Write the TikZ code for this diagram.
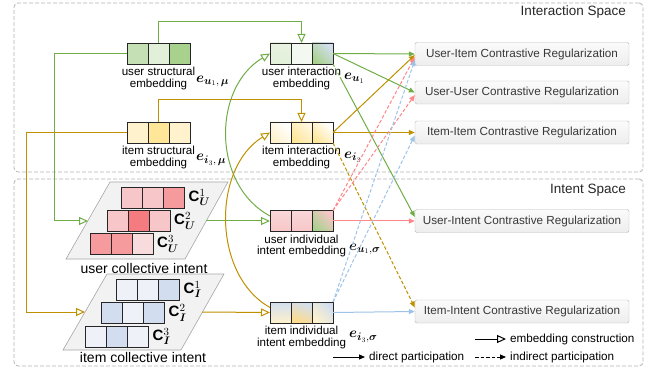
\documentclass[tikz,border=0pt]{standalone}
\usepackage{fontspec}
\setmainfont{Liberation Sans}
\usepackage{amsmath}
\usepackage{bm}
\usetikzlibrary{arrows.meta,positioning}

\definecolor{gline}{HTML}{70AD47}
\definecolor{oline}{HTML}{BF9000}
\definecolor{rline}{HTML}{FF8589}
\definecolor{bline}{HTML}{9DC3E6}
\definecolor{usA}{HTML}{C5E0B4}
\definecolor{usB}{HTML}{E2F0D9}
\definecolor{usC}{HTML}{A9D18E}
\definecolor{isA}{HTML}{FFF2CC}
\definecolor{isB}{HTML}{FFE699}
\definecolor{pkA}{HTML}{F7C6C8}
\definecolor{pkB}{HTML}{F47C80}
\definecolor{pkC}{HTML}{F59A9D}
\definecolor{pkD}{HTML}{F8DCDD}
\definecolor{blA}{HTML}{EEF2F8}
\definecolor{blB}{HTML}{D2DEEF}

% three cells of one embedding: name, centre, styles of the cells
\newcommand{\embcells}[5]{%
  \node[cell,#4] (#1-2) at (#2) {};
  \node[cell,#3,left=0pt of #1-2] (#1-1) {};
  \node[cell,#5,right=0pt of #1-2] (#1-3) {};
}

\begin{document}
\begin{tikzpicture}[x=1pt,y=-1pt,
    cell/.style={draw=black!85, line width=0.9pt, minimum width=21pt, minimum height=21pt, inner sep=0pt, outer sep=0pt},
    emblabel/.style={align=center, inner sep=0pt, font=\fontsize{11.6}{11.6}\selectfont},
    veclabel/.style={inner sep=0pt, anchor=west, font=\fontsize{15}{15}\selectfont},
    setlabel/.style={inner sep=0pt, anchor=west, font=\fontsize{15}{15}\selectfont},
    planename/.style={inner sep=0pt, font=\fontsize{14}{14}\selectfont},
    regbox/.style={draw=gray!55, top color=gray!3, bottom color=gray!14, rounded corners=1.5pt, minimum width=214pt, minimum height=23pt, inner sep=0pt, font=\fontsize{11.7}{12}\selectfont, text=black!78},
    spacebox/.style={draw=gray!60, dash pattern=on 4pt off 2pt, rounded corners=4pt, line width=0.8pt, inner sep=0pt},
    spacename/.style={anchor=base east, inner sep=0pt, font=\fontsize{13.5}{14}\selectfont, text=black!85},
    legtext/.style={anchor=west, inner xsep=4pt, inner ysep=0pt, font=\fontsize{11.7}{12}\selectfont},
    intentplane/.style={draw=gray!70, fill=gray!10, line width=0.6pt},
    construct/.style={-{Triangle[open,fill=white,length=9pt,width=8pt]}, line width=1pt},
    direct/.style={-{Triangle[length=6pt,width=5pt]}, line width=1pt},
    indirect/.style={direct, dash pattern=on 3.5pt off 2pt},
    dashstart/.style={dash pattern=on 3pt off 2pt on 3pt off 2pt on 3pt off 2pt on 400pt}]
  \useasboundingbox (0,0) rectangle (655,371);

  % the two spaces
  \node[spacebox, minimum width=629pt, minimum height=169pt] (inter) at (328.5,87.5) {};
  \node[spacename] (inter-t) at (626,16) {Interaction Space};
  \node[spacebox, minimum width=629pt, minimum height=187pt] (intent) at (328.5,272.5) {};
  \node[spacename] (intent-t) at (626,194) {Intent Space};

  % collective intents
  \draw[intentplane] (110,182) -- (228,182) -- (185,259) -- (66,259) -- cycle;
  \coordinate (ucl-w) at (88,221);
  \coordinate (ucl-e) at (206,221);
  \draw[intentplane] (107,274) -- (224,274) -- (181,350) -- (63,350) -- cycle;
  \coordinate (icl-w) at (85,312);
  \coordinate (icl-e) at (202,312);

  \embcells{cu1}{153,197.5}{fill=pkA}{fill=pkA}{fill=pkC}
  \embcells{cu2}{138.5,221}{fill=pkA}{fill=pkB}{fill=pkA}
  \embcells{cu3}{121.5,244}{fill=pkC}{fill=pkC}{fill=pkD}
  \node[setlabel, right=4pt of cu1-3] (cu1-l) {$\mathbf{C}_{\bm{U}}^{1}$};
  \node[setlabel, right=4pt of cu2-3] (cu2-l) {$\mathbf{C}_{\bm{U}}^{2}$};
  \node[setlabel, right=4pt of cu3-3] (cu3-l) {$\mathbf{C}_{\bm{U}}^{3}$};
  \node[planename] (ucl-t) at (144,268) {user collective intent};

  \embcells{ci1}{148,289.5}{fill=blA}{fill=blA}{fill=blB}
  \embcells{ci2}{133,313}{fill=blB}{fill=blA}{fill=blB}
  \embcells{ci3}{117,336.5}{fill=blA}{fill=blB}{fill=blA}
  \node[setlabel, right=4pt of ci1-3] (ci1-l) {$\mathbf{C}_{\bm{I}}^{1}$};
  \node[setlabel, right=4pt of ci2-3] (ci2-l) {$\mathbf{C}_{\bm{I}}^{2}$};
  \node[setlabel, right=4pt of ci3-3] (ci3-l) {$\mathbf{C}_{\bm{I}}^{3}$};
  \node[planename] (icl-t) at (143,357) {item collective intent};

  % embeddings
  \embcells{us}{158.5,53.5}{fill=usA}{fill=usB}{fill=usC}
  \embcells{is}{158.5,132.5}{fill=isA}{fill=isB}{fill=isA}
  \embcells{ui}{301.5,53.5}{top color=usB!80,bottom color=usB}{fill=usB!40}{top color=blB,bottom color=usC,shading angle=-45}
  \embcells{ii}{301.5,132.5}{top color=white,bottom color=isA,shading angle=-45}{top color=isA!60,bottom color=isB,shading angle=-45}{top color=white,bottom color=isB,shading angle=-45}
  \embcells{uii}{301.5,221}{top color=pkA!70,bottom color=pkA}{top color=pkA!70,bottom color=pkA}{top color=pkA,bottom color=usC,shading angle=-45}
  \embcells{iii}{301.5,312.5}{top color=blB,bottom color=isA}{top color=blB,bottom color=isB!90!orange,shading angle=-20}{top color=blB,bottom color=isA,shading angle=-45}

  \node[emblabel, below=3pt of us-2] (us-t) {user structural\\embedding};
  \node[emblabel, below=3pt of is-2] (is-t) {item structural\\embedding};
  \node[emblabel, below=3pt of ui-2] (ui-t) {user interaction\\embedding};
  \node[emblabel, below=3pt of ii-2] (ii-t) {item interaction\\embedding};
  \node[emblabel, below=3pt of uii-2] (uii-t) {user individual\\intent embedding};
  \node[emblabel, below=3pt of iii-2] (iii-t) {item individual\\intent embedding};

  \node[veclabel] (us-e) at (196,81) {$\bm{e}_{\bm{u}_1,\,\bm{\mu}}$};
  \node[veclabel] (is-e) at (196,160) {$\bm{e}_{\bm{i}_3,\,\bm{\mu}}$};
  \node[veclabel] (ui-e) at (344,78) {$\bm{e}_{\bm{u}_1}$};
  \node[veclabel] (ii-e) at (344,157) {$\bm{e}_{\bm{i}_3}$};
  \node[veclabel] (uii-e) at (349,249) {$\bm{e}_{\bm{u}_1,\bm{\sigma}}$};
  \node[veclabel] (iii-e) at (349,337) {$\bm{e}_{\bm{i}_3,\bm{\sigma}}$};

  % regularizations
  \node[regbox] (uireg) at (522,54) {User-Item Contrastive Regularization};
  \node[regbox] (uureg) at (522,92.5) {User-User Contrastive Regularization};
  \node[regbox] (iireg) at (522,132.5) {Item-Item Contrastive Regularization};
  \node[regbox] (uinreg) at (522,221) {User-Intent Contrastive Regularization};
  \node[regbox] (iinreg) at (522,311.5) {Item-Intent Contrastive Regularization};

  % user side
  \draw[gline, construct] (us-2.north) -- ++(0,-21) -| (ui-2.north);
  \draw[gline, construct] (us-1.west) -- ++(-73,0) |- (ucl-w);
  \draw[gline, construct] (ucl-e) -- (uii-1.west);
  \draw[gline, construct] ([yshift=5pt]uii-1.west) .. controls (212,185) and (212,88) .. (ui-1.west);
  \draw[gline, direct] (ui-3.east) -- (uireg.west);
  \draw[gline, direct] (ui-3.east) -- (uureg.west);
  \draw[gline, direct, dashstart] (ui-3.south east) -- ([yshift=4pt]uinreg.west);

  % item side
  \draw[oline, construct] (is-2.north) -- ++(0,-22) -| (ii-2.north);
  \draw[oline, construct] (is-1.west) -- ++(-101,0) |- (icl-w);
  \draw[oline, construct] (icl-e) -- (iii-1.west);
  \draw[oline, construct] ([yshift=5pt]iii-1.west) .. controls (212,275) and (212,168) .. (ii-1.west);
  \draw[oline, direct] (ii-3.east) -- ([yshift=-1pt]uireg.west);
  \draw[oline, direct] (ii-3.east) -- (iireg.west);
  \draw[oline, indirect] (ii-3.south east) -- ([yshift=4pt]iinreg.west);

  % intent embeddings
  \draw[rline, direct] (uii-3.east) -- (uinreg.west);
  \draw[rline, indirect] (uii-3.north east) -- ([yshift=-3pt]uireg.west);
  \draw[rline, indirect] (uii-3.north east) -- ([yshift=-2.5pt]uureg.west);
  \draw[bline, direct] (iii-3.east) -- (iinreg.west);
  \draw[bline, indirect] (iii-3.north east) -- ([yshift=-6pt]uireg.west);
  \draw[bline, indirect] (iii-3.north east) -- ([yshift=-3pt]iireg.west);

  % legend
  \node[legtext] (leg-c) at (506,339) {embedding construction};
  \node[legtext] (leg-d) at (365,357) {direct participation};
  \node[legtext] (leg-i) at (506,357) {indirect participation};
  \coordinate (leg-c0) at (475,339);
  \coordinate (leg-d0) at (333,357);
  \coordinate (leg-i0) at (475,357);
  \draw[construct] (leg-c0) -- (leg-c.west);
  \draw[direct] (leg-d0) -- (leg-d.west);
  \draw[indirect] (leg-i0) -- (leg-i.west);
\end{tikzpicture}
\end{document}
